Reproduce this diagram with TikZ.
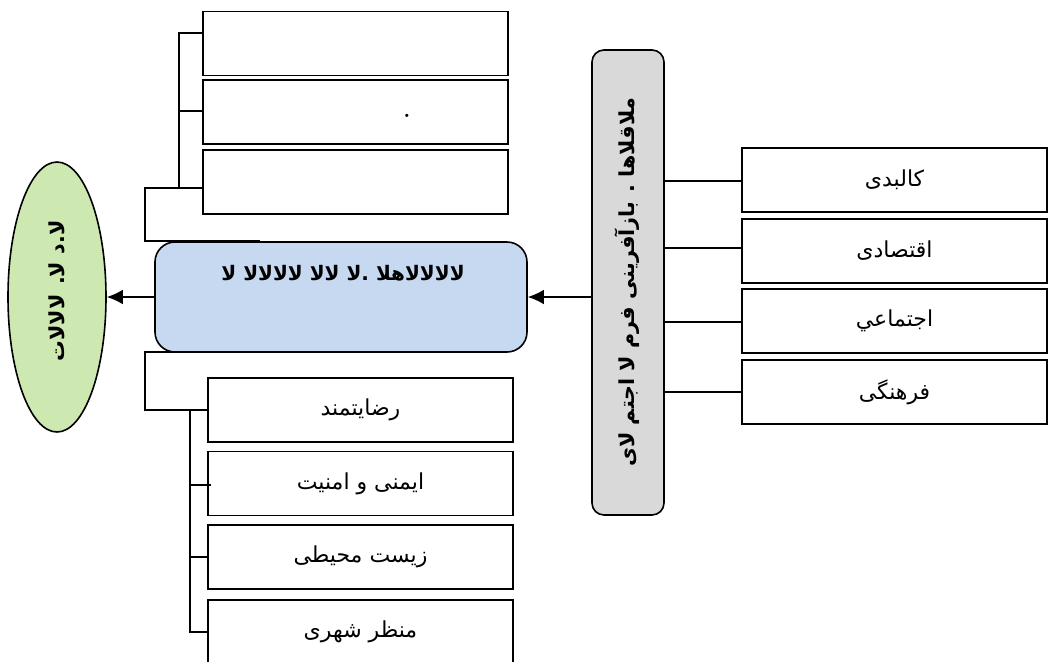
\documentclass[tikz,border=0pt]{standalone}
\usepackage{fontspec}
\newfontfamily\ar[Script=Arabic]{DejaVu Sans}
\TeXXeTstate=1
\usetikzlibrary{shapes.geometric,arrows.meta,calc}
\definecolor{blueF}{HTML}{C6D9F1}
\definecolor{greenF}{HTML}{CDE8B0}
\definecolor{grayF}{HTML}{D9D9D9}
\tikzset{
  box/.style={draw=black, line width=1.4pt, fill=white, minimum width=228.75pt,
    minimum height=48pt, inner sep=0pt, font=\ar\fontsize{16.5}{19}\selectfont},
  conn/.style={draw=black, line width=1.1pt},
  arr/.style={draw=black, line width=1.1pt, -{Latex[length=12pt,width=11pt]}},
  boldar/.style={font=\ar\bfseries\fontsize{15.5}{18}\selectfont}
}
\begin{document}
\begin{tikzpicture}[x=0.75pt,y=-0.75pt]
\useasboundingbox (0,0) rectangle (1048,661);
% ellipse
\node[ellipse, draw=black, line width=1.2pt, fill=greenF, minimum width=73.5pt,
  minimum height=202.5pt, inner sep=0pt] (E) at (57,297) {};
\node[boldar, rotate=90] (Et) at (57,291) {\beginR لا.د لا. لالالات\endR};
% blue box
\node[draw=black, line width=1.2pt, fill=blueF, rounded corners=15pt,
  minimum width=279pt, minimum height=82.5pt, inner sep=0pt] (B) at (341,297) {};
\node[boldar, font=\ar\bfseries\fontsize{15}{18}\selectfont] (Bt) at (343,273) {\beginR لالالالاهلا .لا لالا لالالالا لا\endR};
% gray box
\node[draw=black, line width=1.2pt, fill=grayF, rounded corners=9pt,
  minimum width=54pt, minimum height=348.75pt, inner sep=0pt] (G) at (628,282.5) {};
\node[boldar, rotate=90] (Gt) at (627,282) {\beginR ملاقلاها . بازآفرینی فرم لا اجتم لای\endR};
% right boxes
\node[box] (R1) at (894.5,180) {\beginR کالبدی\endR};
\node[box] (R2) at (894.5,251) {\beginR اقتصادی\endR};
\node[box] (R3) at (894.5,321) {\beginR اجتماعي\endR};
\node[box] (R4) at (894.5,392) {\beginR فرهنگی\endR};
% top-left boxes
\node[box] (T1) at (355.5,43.5) {};
\node[box] (T2) at (355.5,112) {};
\node[box] (T3) at (355.5,182) {};
\node[inner sep=0pt, font=\bfseries\fontsize{17}{19}\selectfont] (dot) at (407,116) {.};
% bottom boxes
\node[box] (D1) at (360.5,410) {\beginR رضایتمند\endR};
\node[box] (D2) at (360.5,483.5) {\beginR ایمنی و امنیت\endR};
\node[box] (D3) at (360.5,557) {\beginR زیست محیطی\endR};
\node[box] (D4) at (360.5,632) {\beginR منظر شهری\endR};
% gray -> right boxes
\draw[conn] (G.east |- 0,181) -- (R1.west |- 0,181);
\draw[conn] (G.east |- 0,248) -- (R2.west |- 0,248);
\draw[conn] (G.east |- 0,322) -- (R3.west |- 0,322);
\draw[conn] (G.east |- 0,392) -- (R4.west |- 0,392);
% arrows
\draw[arr] (G.west |- B.east) -- (B.east);
\draw[arr] (B.west) -- (E.east);
% top tree
\coordinate (tv) at (179,188);
\draw[conn] (T1.west |- 0,33) -- (179,33) -- (tv) -- (T3.west |- tv);
\draw[conn] (T2.west |- 0,111) -- (179,111);
\draw[conn] (tv) -- (145,188) -- (145,241) -- (260,241);
% bottom tree
\coordinate (bv) at (190,410);
\draw[conn] (260,352) -- (145,352) -- (145,410) -- (D1.west |- bv);
\draw[conn] (bv) -- (190,632) -- (D4.west |- 0,632);
\draw[conn] (190,485) -- (211,485);
\draw[conn] (190,557) -- (D3.west |- 0,557);
\end{tikzpicture}
\end{document}
